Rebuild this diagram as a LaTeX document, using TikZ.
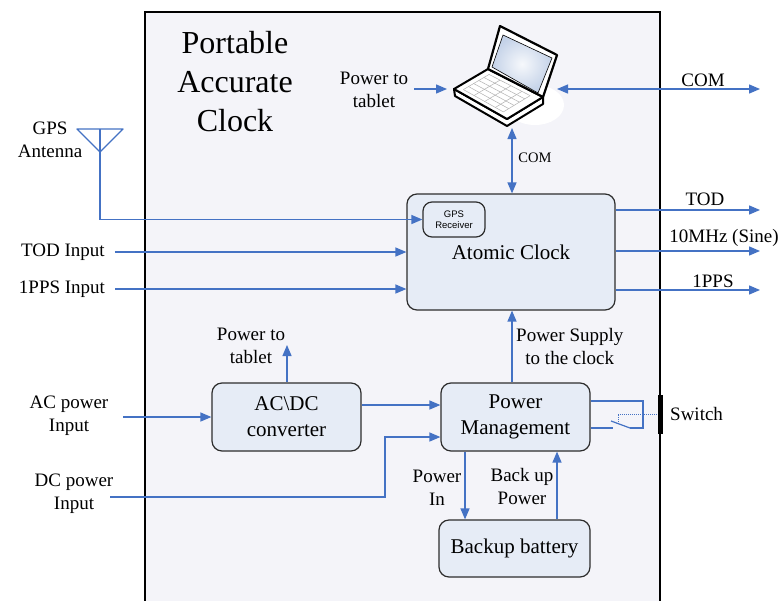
\documentclass[tikz,border=0pt]{standalone}
\usepackage{fontspec}
\setmainfont{Liberation Serif}
\newfontfamily\sansf{Liberation Sans}
\usetikzlibrary{arrows.meta,calc}
\definecolor{lineblue}{RGB}{68,114,196}
\definecolor{boxfill}{RGB}{230,236,246}
\definecolor{panel}{RGB}{244,244,249}
\definecolor{boxline}{RGB}{45,45,45}
\definecolor{screenblue}{RGB}{196,210,232}
\begin{document}
\begin{tikzpicture}[x=1pt,y=-1pt,
  blk/.style={draw=boxline, line width=1.2pt, fill=boxfill, rounded corners=10pt, inner sep=0pt, align=center, font=\fontsize{21}{26}\selectfont},
  conn/.style={draw=lineblue, line width=1.3pt},
  arr/.style={conn, -{Triangle[length=11pt,width=9pt]}},
  darr/.style={conn, {Triangle[length=11pt,width=9pt]}-{Triangle[length=11pt,width=9pt]}},
  lbl/.style={align=center, inner sep=0pt, font=\fontsize{19}{23}\selectfont},
  small/.style={align=center, inner sep=0pt, font=\fontsize{14.5}{17}\selectfont},
  swline/.style={draw=lineblue, line width=1.2pt}
]
\useasboundingbox (0,0) rectangle (784,600);
\fill[white] (0,0) rectangle (784,600);
% outer panel
\draw[fill=panel, line width=1.6pt] (145,612) -- (145,12) -- (660,12) -- (660,612);
\node[align=center, inner sep=0pt, font=\fontsize{32}{39}\selectfont] (title) at (235,82) {Portable\\Accurate\\Clock};

% laptop
\fill[white] (535,105) ellipse [x radius=29, y radius=20];
\coordinate (A) at (454,89);
\coordinate (B) at (488,69);
\coordinate (C) at (543,97);
\coordinate (D) at (507,119);
\filldraw[fill=white, draw=black, line width=2pt, line join=round] (A) -- (455,96) -- (507,126) -- (543,104) -- (C) -- (D) -- cycle;
\filldraw[fill=white, draw=black, line width=2pt, line join=round] (A) -- (B) -- (C) -- (D) -- cycle;
\foreach \t in {0.12,0.27,0.42,0.57,0.72,0.87} {
  \draw[gray!60, line width=0.5pt] ($($(A)!0.1!(D)$)!\t!($(B)!0.1!(C)$)$) -- ($($(A)!0.85!(D)$)!\t!($(B)!0.85!(C)$)$);
}
\foreach \s in {0.1,0.3,0.5,0.7,0.85} {
  \draw[gray!60, line width=0.5pt] ($($(A)!0.12!(B)$)!\s!($(D)!0.12!(C)$)$) -- ($($(A)!0.87!(B)$)!\s!($(D)!0.87!(C)$)$);
}
\filldraw[fill=white, draw=black, line width=2.2pt, line join=round] (B) -- (500,26) -- (557,55) -- (C) -- cycle;
\shade[inner color=white!85!screenblue, outer color=screenblue] (503,35) -- (552,58) -- (538,93) -- (492,67) -- cycle;
\draw[black, line width=0.6pt] (503,35) -- (552,58) -- (538,93) -- (492,67) -- cycle;
\coordinate (lapL) at (447,89);
\coordinate (lapR) at (557,89);
\coordinate (lapB) at (512,128);

% blocks
\node[blk, minimum width=208pt, minimum height=116pt] (clock) at (511,252) {Atomic Clock};
\node[draw=boxline, line width=1.2pt, fill=boxfill, rounded corners=9pt, minimum width=62pt, minimum height=35pt, inner sep=0pt, align=center, font=\sansf\fontsize{9.5}{10.5}\selectfont] (gps) at (454,219.5) {GPS\\Receiver};
\node[blk, minimum width=149pt, minimum height=68pt] (pm) at (515.5,417) {Power\\Management};
\node[blk, minimum width=151pt, minimum height=57pt] (bat) at (514.5,548.5) {Backup battery};
\node[blk, minimum width=149pt, minimum height=68pt] (acdc) at (286.5,417) {AC\textbackslash DC\\converter};

% laptop connectors
\node[lbl] (ptt1) at (374,90) {Power to\\tablet};
\draw[arr] ([xshift=6pt]ptt1.east |- lapL) -- (lapL);
\coordinate (comR) at (760,89);
\draw[darr] (lapR) -- (comR);
\node[lbl] (comlbl) at (703,80) {COM};
\draw[darr] (lapB) -- (clock.north -| lapB);
\node[small] (comsm) at (535,158) {COM};

% GPS antenna
\coordinate (ant) at (100,129);
\draw[conn, line join=round] (77,129) -- (123,129) -- (100,152) -- cycle;
\draw[arr] (ant) |- (gps.west);
\node[lbl] (antlbl) at (50,140) {GPS\\Antenna};

% inputs
\node[lbl] (todin) at (63,252) {TOD Input};
\draw[arr] ([xshift=10pt]todin.east) -- (todin.east -| clock.west);
\node[lbl] (ppsin) at (62,289) {1PPS Input};
\draw[arr] ([xshift=10pt]ppsin.east) -- (ppsin.east -| clock.west);

% outputs
\coordinate (todo) at (760,210);
\coordinate (tenm) at (760,251);
\coordinate (ppso) at (760,290);
\draw[arr] (clock.east |- todo) -- (todo);
\draw[arr] (clock.east |- tenm) -- (tenm);
\draw[arr] (clock.east |- ppso) -- (ppso);
\node[lbl] (todlbl) at (705,199) {TOD};
\node[lbl] (tenlbl) at (724,238) {10MHz (Sine)};
\node[lbl] (ppslbl) at (713,281) {1PPS};

% power supply
\coordinate (psx) at (512,0);
\draw[arr] (pm.north -| psx) -- (clock.south -| psx);
\node[lbl, anchor=west] (pslbl) at (516,346) {Power Supply\\to the clock};

% acdc
\coordinate (pt2) at (287,345);
\draw[arr] (acdc.north -| pt2) -- (pt2);
\node[lbl] (ptt2) at (251,346) {Power to\\tablet};
\node[lbl] (aclbl) at (69,416) {AC power\\Input};
\coordinate (acs) at (123,417);
\draw[arr] (acs) -- (acdc.west |- acs);
\coordinate (acpm) at (0,405);
\draw[arr] (acdc.east |- acpm) -- (pm.west |- acpm);
\node[lbl] (dclbl) at (74,494) {DC power\\Input};
\coordinate (dcs) at (110,497);
\coordinate (dcy) at (0,437);
\draw[arr] (dcs) -- (385,497) -- (385,437) -- (pm.west |- dcy);

% battery
\coordinate (pin) at (465,0);
\coordinate (bup) at (557,0);
\draw[arr] (pm.south -| pin) -- (bat.north -| pin);
\draw[arr] (bat.north -| bup) -- (pm.south -| bup);
\node[lbl] (pinlbl) at (437,488) {Power\\In};
\node[lbl] (buplbl) at (522,486) {Back up\\Power};

% switch
\coordinate (sw1) at (0,401);
\coordinate (sw2) at (0,428);
\draw[swline] (591,401) -- (643,401) -- (643,428) -- (630,428);
\draw[swline] (591,428) -- (613,428);
\draw[swline] (611,421) -- (630,428);
\draw[swline, line width=1pt, densely dotted] (618,424) -- (618,414) -- (660,414);
\fill[black] (658,395) rectangle (663,434);
\node[lbl, anchor=west] (swlbl) at (670,414) {Switch};
\end{tikzpicture}
\end{document}
